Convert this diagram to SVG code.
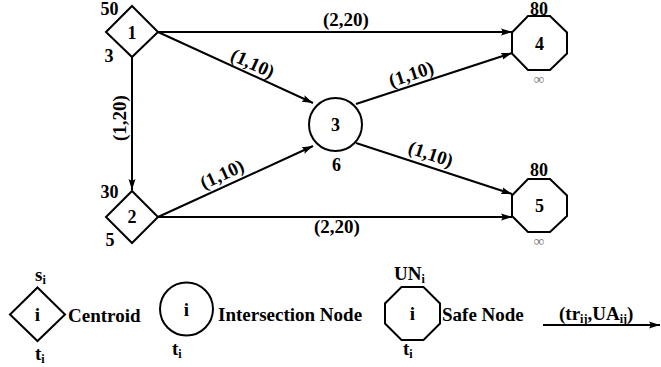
<svg xmlns="http://www.w3.org/2000/svg" width="661" height="367" viewBox="0 0 661 367" font-family="'Liberation Serif', 'Times New Roman', 'DejaVu Serif', serif">
<style>
text{font-family:'Liberation Serif','Times New Roman','DejaVu Serif',serif;font-weight:bold;fill:#000;font-size:19px}
.c{text-anchor:middle}
.n{font-size:18px}
.shape{fill:#fff;stroke:#000;stroke-width:2}
.edge{stroke:#000;stroke-width:2;fill:none}
.inf{font-weight:normal;font-size:15px;fill:#777}
.sub{font-size:12px}
</style>
<defs>
<marker id="ah" markerUnits="userSpaceOnUse" markerWidth="11" markerHeight="8" refX="11" refY="4" orient="auto">
<path d="M0,0.5 L11,4 L0,7.5 L2,4 z" fill="#000"/>
</marker>
</defs>
<rect width="661" height="367" fill="#fff"/>
<g id="edges">
<line class="edge" x1="158" y1="32" x2="512" y2="32" marker-end="url(#ah)"/>
<line class="edge" x1="158" y1="32" x2="313" y2="103" marker-end="url(#ah)"/>
<line class="edge" x1="132" y1="57" x2="132" y2="190" marker-end="url(#ah)"/>
<line class="edge" x1="158" y1="217" x2="313" y2="146" marker-end="url(#ah)"/>
<line class="edge" x1="158" y1="217" x2="512" y2="217" marker-end="url(#ah)"/>
<line class="edge" x1="356" y1="104" x2="512" y2="53" marker-end="url(#ah)"/>
<line class="edge" x1="356" y1="143" x2="512" y2="194" marker-end="url(#ah)"/>
<text class="c" x="346" y="25.5">(2,20)</text>
<text class="c" x="337" y="233">(2,20)</text>
<text class="c" transform="rotate(-90 126 118)" x="126" y="118">(1,20)</text>
<text class="c" transform="rotate(24.6 250 69)" x="250" y="69">(1,10)</text>
<text class="c" transform="rotate(-24.6 224.7 180)" x="224.7" y="180">(1,10)</text>
<text class="c" transform="rotate(-18.1 413.2 80)" x="413.2" y="80">(1,10)</text>
<text class="c" transform="rotate(18.1 428.8 160)" x="428.8" y="160">(1,10)</text>
</g>
<g id="node1">
<polygon class="shape" points="132,6 158,32 132,57 106,32"/>
<text class="c n" x="132" y="38.5">1</text>
<text class="c n" x="109.5" y="14.5">50</text>
<text class="c n" x="109" y="62">3</text>
</g>
<g id="node2">
<polygon class="shape" points="132,191 158,217 132,243 106,217"/>
<text class="c n" x="132" y="223">2</text>
<text class="c n" x="109.5" y="197.5">30</text>
<text class="c n" x="110" y="245.5">5</text>
</g>
<g id="node3">
<circle class="shape" cx="335.5" cy="124.5" r="26.5"/>
<text class="c n" x="335.5" y="131">3</text>
<text class="c n" x="336.5" y="170.5">6</text>
</g>
<g id="node4">
<polygon class="shape" points="528,16 550,16 567,32.5 567,53.5 550,70 528,70 512,53.5 512,32.5"/>
<text class="c n" x="539.5" y="49.5">4</text>
<text class="c n" x="539" y="14.5">80</text>
<text class="c inf" x="539" y="84">∞</text>
</g>
<g id="node5">
<polygon class="shape" points="528,179 550,179 567,195.5 567,216 550,232 528,232 512,216 512,195.5"/>
<text class="c n" x="539.5" y="212">5</text>
<text class="c n" x="539" y="175.5">80</text>
<text class="c inf" x="539" y="246">∞</text>
</g>
<g id="legend-centroid">
<polygon class="shape" points="37.5,287.5 65,314.5 37.5,341 10,314.5"/>
<text class="c" x="37.5" y="321">i</text>
<text x="35" y="281">s<tspan class="sub" dy="3">i</tspan></text>
<text x="35" y="360">t<tspan class="sub" dy="3">i</tspan></text>
<text x="68" y="322">Centroid</text>
</g>
<g id="legend-intersection">
<circle class="shape" cx="186.5" cy="309" r="26.5"/>
<text class="c" x="186.5" y="315.5">i</text>
<text x="172" y="355">t<tspan class="sub" dy="3">i</tspan></text>
<text x="218" y="321">Intersection Node</text>
</g>
<g id="legend-safe">
<polygon class="shape" points="401.5,287 423.5,287 440,303.5 440,323.5 423.5,340 401.5,340 385,323.5 385,303.5"/>
<text class="c" x="412.5" y="320">i</text>
<text x="394" y="280">UN<tspan class="sub" dy="3">i</tspan></text>
<text x="403" y="355">t<tspan class="sub" dy="3">i</tspan></text>
<text x="442" y="321">Safe Node</text>
</g>
<g id="legend-edge">
<line class="edge" x1="543" y1="325" x2="660" y2="325" marker-end="url(#ah)"/>
<text x="559" y="320">(tr<tspan class="sub" dy="3">ij</tspan><tspan dy="-3">,UA</tspan><tspan class="sub" dy="3">ij</tspan><tspan dy="-3">)</tspan></text>
</g>
</svg>
